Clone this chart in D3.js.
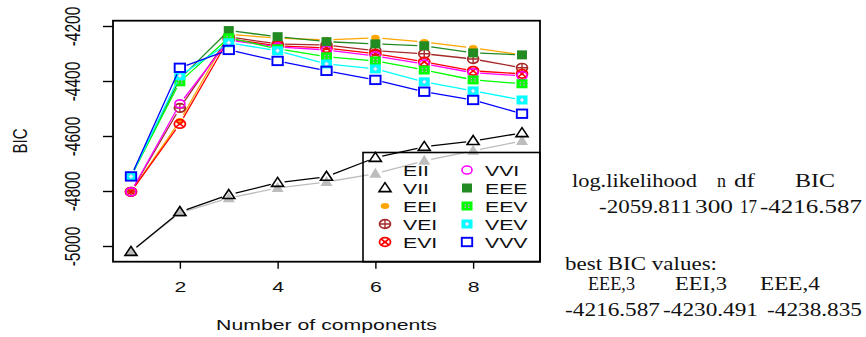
<!DOCTYPE html>
<html>
<head>
<meta charset="utf-8">
<script src="https://cdn.jsdelivr.net/npm/d3@7"></script>
<style>
  body { margin: 0; background: #fff; }
  svg { display: block; }
</style>
</head>
<body>
<svg id="chart" width="866" height="337"></svg>
<script>
// ---- data -------------------------------------------------------------
const components = [1, 2, 3, 4, 5, 6, 7, 8, 9];
const models = ["EII", "VII", "EEI", "VEI", "EVI", "VVI", "EEE", "EEV", "VEV", "VVV"];
const modelColors = ["#bdbdbd", "#000000", "#ffa500", "#a52a2a", "#ff0000",
                     "#ff00ff", "#228b22", "#00ff00", "#00ffff", "#0000ff"];

const bicEII = [-5021, -4880, -4826, -4789, -4767, -4737, -4690, -4654, -4618];
const bicVII = [-5021, -4876, -4814, -4770, -4748, -4679, -4639, -4618, -4589];
const bicEEI = [-4803, -4545, -4230.491, -4244, -4251, -4243, -4258, -4280, -4305];
const bicVEI = [-4803, -4498, -4240, -4265, -4269, -4290, -4301, -4320, -4352];
const bicEVI = [-4803, -4556, -4247, -4272, -4280, -4301, -4330, -4363, -4374];
const bicVVI = [-4803, -4483, -4251, -4276, -4287, -4309, -4338, -4370, -4381];
const bicEEE = [-4747, -4392, -4216.587, -4238.835, -4257, -4265, -4272, -4298, -4305];
const bicEEV = [-4747, -4403, -4243, -4283, -4312, -4327, -4360, -4396, -4410];
const bicVEV = [-4747, -4381, -4261, -4290, -4338, -4356, -4403, -4436, -4469];
const bicVVV = [-4747, -4352, -4287, -4327, -4363, -4396, -4439, -4469, -4519];

const yTicks = [-5000, -4800, -4600, -4400, -4200];
const xTicks = [2, 4, 6, 8];

// model summary printed beside the plot
const statHeader = ["log.likelihood", "n", "df", "BIC"];
const statValues = ["-2059.811", "300", "17", "-4216.587"];
const bestModels = ["EEE,3", "EEI,3", "EEE,4"];
const bestValues = [-4216.587, -4230.491, -4238.835];

const bicByModel = {
  EII: bicEII, VII: bicVII, EEI: bicEEI, VEI: bicVEI, EVI: bicEVI,
  VVI: bicVVI, EEE: bicEEE, EEV: bicEEV, VEV: bicVEV, VVV: bicVVV
};

// ---- layout -----------------------------------------------------------
const svg = d3.select("#chart");
const frame = { left: 113, right: 540, top: 20.7, bottom: 261.7 };
const x = d3.scaleLinear().domain([1, 9]).range([131, 522]);
const y = d3.scaleLinear().domain([-5000, -4200]).range([246, 26]);
const WIDE = 1.37;               // horizontal widening of glyphs
const sans = "'Liberation Sans', Arial, sans-serif";
const serif = "'Liberation Serif', 'Times New Roman', serif";

svg.append("rect").attr("width", 866).attr("height", 337).attr("fill", "#fff");

function widen(sel, k) {
  sel.each(function () {
    const len = this.getComputedTextLength();
    d3.select(this).attr("textLength", len * k).attr("lengthAdjust", "spacingAndGlyphs");
  });
}
function fitTo(sel, len) {
  sel.attr("textLength", len).attr("lengthAdjust", "spacingAndGlyphs");
}

// ---- plotting symbols -------------------------------------------------
function triPath(w, h) {
  return `M0,${-h * 0.6}L${w / 2},${h * 0.4}L${-w / 2},${h * 0.4}Z`;
}
function drawSymbol(g, model, color) {
  switch (model) {
    case "EII":
      g.append("path").attr("d", triPath(12, 10)).attr("fill", color);
      break;
    case "VII":
      g.append("path").attr("d", triPath(12, 9)).attr("fill", "none")
        .attr("stroke", color).attr("stroke-width", 1.6);
      break;
    case "EEI":
      g.append("ellipse").attr("rx", 4.3).attr("ry", 3).attr("fill", color);
      break;
    case "VEI":
      g.append("ellipse").attr("rx", 5.5).attr("ry", 4.3).attr("fill", "none")
        .attr("stroke", color).attr("stroke-width", 1.7);
      g.append("path").attr("d", "M-5.5,0H5.5M0,-4.3V4.3")
        .attr("stroke", color).attr("stroke-width", 1.4);
      break;
    case "EVI":
      g.append("ellipse").attr("rx", 5.5).attr("ry", 4.3).attr("fill", "none")
        .attr("stroke", color).attr("stroke-width", 1.8);
      g.append("path").attr("d", "M-3.9,-3L3.9,3M-3.9,3L3.9,-3")
        .attr("stroke", color).attr("stroke-width", 1.6);
      break;
    case "VVI":
      g.append("ellipse").attr("rx", 5).attr("ry", 4).attr("fill", "none")
        .attr("stroke", color).attr("stroke-width", 1.6);
      break;
    case "EEE":
      g.append("rect").attr("x", -5).attr("y", -4.5).attr("width", 10).attr("height", 9)
        .attr("fill", color);
      break;
    case "EEV":
      g.append("rect").attr("x", -5.5).attr("y", -4.5).attr("width", 11).attr("height", 9)
        .attr("fill", color);
      [[-2.4, -2], [1.2, -2], [-2.4, 0.6], [1.2, 0.6]].forEach(([dx, dy]) =>
        g.append("rect").attr("x", dx).attr("y", dy).attr("width", 1.4).attr("height", 1.4)
          .attr("fill", "#c8a0d0"));
      break;
    case "VEV":
      g.append("rect").attr("x", -5.5).attr("y", -4.5).attr("width", 11).attr("height", 9)
        .attr("fill", color);
      g.append("path").attr("d", "M0,-2.2L2.2,0L0,2.2L-2.2,0Z")
        .attr("fill", "#e8f8ff").attr("stroke", "#b0b0ff").attr("stroke-width", 0.6);
      break;
    case "VVV":
      g.append("rect").attr("x", -5.2).attr("y", -4.2).attr("width", 10.4).attr("height", 8.4)
        .attr("fill", "none").attr("stroke", color).attr("stroke-width", 1.9);
      break;
  }
}

// ---- BIC curves (lines broken around each point) ----------------------
const GAP = 7;
const plot = svg.append("g");
models.forEach((m, mi) => {
  const color = modelColors[mi];
  const pts = bicByModel[m].map((v, i) => [x(components[i]), y(v)]);
  const g = plot.append("g").attr("class", "series-" + m);
  let d = "";
  for (let i = 0; i < pts.length - 1; i++) {
    const [x0, y0] = pts[i], [x1, y1] = pts[i + 1];
    const len = Math.hypot(x1 - x0, y1 - y0);
    if (len <= 2 * GAP) continue;
    const ux = (x1 - x0) / len, uy = (y1 - y0) / len;
    d += `M${x0 + ux * GAP},${y0 + uy * GAP}L${x1 - ux * GAP},${y1 - uy * GAP}`;
  }
  g.append("path").attr("d", d).attr("fill", "none")
    .attr("stroke", color).attr("stroke-width", 1.3);
  pts.forEach(([px, py]) => {
    drawSymbol(g.append("g").attr("transform", `translate(${px},${py})`), m, color);
  });
});

// ---- frame and axes ---------------------------------------------------
svg.append("rect")
  .attr("x", frame.left).attr("y", frame.top)
  .attr("width", frame.right - frame.left).attr("height", frame.bottom - frame.top)
  .attr("fill", "none").attr("stroke", "#000").attr("stroke-width", 1.8);

const yAxis = svg.append("g")
  .attr("transform", `translate(${frame.left},0)`)
  .call(d3.axisLeft(y).tickValues(yTicks).tickSize(10).tickFormat(d => String(d)));
yAxis.select(".domain").remove();
yAxis.selectAll(".tick line").attr("stroke", "#000").attr("stroke-width", 1.4);
yAxis.selectAll(".tick text")
  .attr("x", null).attr("dy", null)
  .attr("text-anchor", "middle")
  .attr("dominant-baseline", "central")
  .attr("transform", `translate(-40,0) rotate(-90) scale(1,${WIDE})`)
  .attr("font-family", sans).attr("font-size", 15.5).attr("fill", "#111");

const xAxis = svg.append("g")
  .attr("transform", `translate(0,${frame.bottom})`)
  .call(d3.axisBottom(x).tickValues(xTicks).tickSize(7));
xAxis.select(".domain").remove();
xAxis.selectAll(".tick line").attr("stroke", "#000").attr("stroke-width", 1.4);
xAxis.selectAll(".tick text")
  .attr("y", 30).attr("dy", null)
  .attr("font-family", sans).attr("font-size", 15.5).attr("fill", "#111")
  .call(widen, WIDE);

svg.append("text")
  .attr("x", (frame.left + frame.right) / 2).attr("y", 329.5)
  .attr("text-anchor", "middle")
  .attr("font-family", sans).attr("font-size", 15.5).attr("fill", "#111")
  .text("Number of components")
  .call(widen, WIDE);

svg.append("text")
  .attr("text-anchor", "middle").attr("dominant-baseline", "central")
  .attr("transform", `translate(20,141) rotate(-90) scale(1,${WIDE})`)
  .attr("font-family", sans).attr("font-size", 15).attr("fill", "#111")
  .text("BIC");

// ---- legend -----------------------------------------------------------
const legendBox = { left: 363, top: 152.5, right: frame.right, bottom: frame.bottom };
svg.append("rect")
  .attr("x", legendBox.left).attr("y", legendBox.top)
  .attr("width", legendBox.right - legendBox.left)
  .attr("height", legendBox.bottom - legendBox.top)
  .attr("fill", "none").attr("stroke", "#000").attr("stroke-width", 1.6);

const legendCols = [{ sym: 385, text: 403 }, { sym: 467, text: 485 }];
models.forEach((m, i) => {
  const col = legendCols[Math.floor(i / 5)];
  const cy = 170 + 18 * (i % 5);
  if (m !== "EII") {
    drawSymbol(svg.append("g").attr("transform", `translate(${col.sym},${cy})`), m, modelColors[i]);
  }
  svg.append("text")
    .attr("x", col.text).attr("y", cy).attr("dy", "0.36em")
    .attr("font-family", sans).attr("font-size", 15.5).attr("fill", "#111")
    .text(m)
    .call(widen, WIDE);
});

// ---- printed model summary ------------------------------------------
const note = svg.append("g")
  .attr("font-family", serif).attr("font-size", 18).attr("fill", "#111");

const headerPos = [[572, 125], [717, 9], [734, 21], [795, 40]];
statHeader.forEach((t, i) => {
  note.append("text").attr("x", headerPos[i][0]).attr("y", 187).text(t)
    .call(fitTo, headerPos[i][1]);
});
const valuePos = [[599, 93], [695, 38], [740, 17], [760, 102]];
statValues.forEach((t, i) => {
  note.append("text").attr("x", valuePos[i][0]).attr("y", 212.5).text(t)
    .call(fitTo, valuePos[i][1]);
});

note.append("text").attr("x", 565).attr("y", 269.5).text("best BIC values:")
  .call(fitTo, 152);

const bestLabelPos = [[588, 47], [675, 52], [760, 60]];
bestModels.forEach((t, i) => {
  note.append("text").attr("x", bestLabelPos[i][0]).attr("y", 290).text(t)
    .call(fitTo, bestLabelPos[i][1]);
});
const bestValuePos = [565, 663, 767];
bestValues.forEach((v, i) => {
  note.append("text").attr("x", bestValuePos[i]).attr("y", 315.5).text(v.toFixed(3))
    .call(fitTo, 95);
});
</script>
</body>
</html>
